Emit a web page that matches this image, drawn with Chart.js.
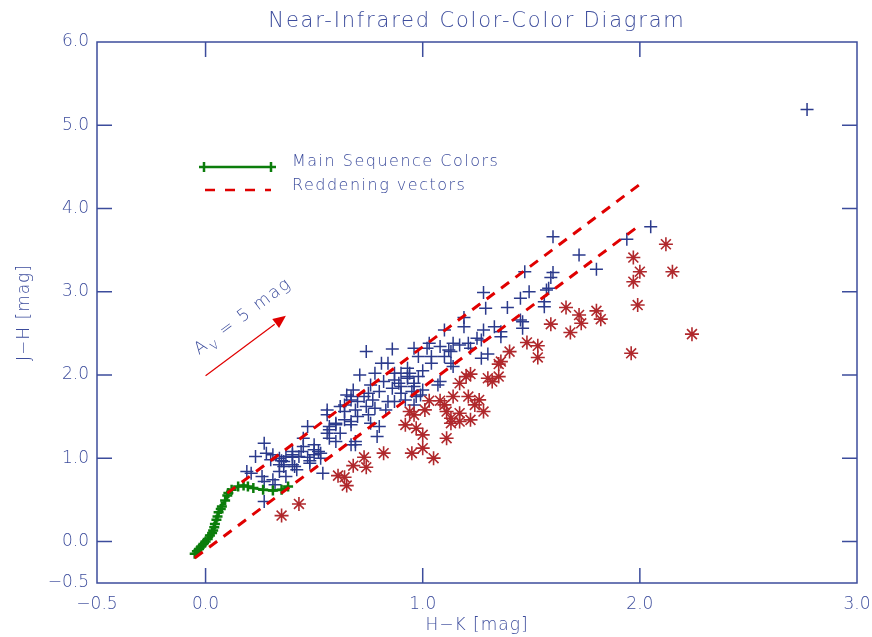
<!DOCTYPE html>
<html>
<head>
<meta charset="utf-8">
<script src="https://cdn.jsdelivr.net/npm/chart.js@4.4.1/dist/chart.umd.min.js"></script>
<style>
  html, body { margin: 0; padding: 0; background: #ffffff; }
  #nir_chart { display: block; }
</style>
</head>
<body>
<canvas id="nir_chart" width="872" height="637"></canvas>
<script>
// field stars without excess (plus signs)
const hk_plus = [
  1.60, 1.60, 1.59, 1.58, 1.56, 1.56, 1.47, 1.49, 1.45, 1.46, 1.45, 1.46, 1.39, 1.28, 1.29,
  1.28, 1.33, 1.36, 1.36, 1.27, 1.25, 1.30, 1.27, 1.19, 1.19, 1.10, 1.21, 1.22, 1.17, 1.14,
  1.13, 1.08, 1.03, 1.02, 0.96, 0.98, 1.04, 1.04, 1.10, 1.13, 1.14, 0.93, 0.94, 0.93, 0.96,
  0.96, 1.07, 1.08, 0.99, 0.90, 0.74, 0.86, 0.81, 0.84, 0.71, 0.78, 0.87, 0.87, 0.93, 0.89,
  0.95, 0.97, 1.00, 0.68, 0.65, 0.67, 0.70, 0.73, 0.75, 0.80, 0.77, 0.84, 0.87, 0.83, 0.74,
  0.69, 0.64, 0.75, 0.56, 0.56, 0.64, 0.67, 0.67, 0.76, 0.80, 0.79, 0.47, 0.57, 0.60, 0.62,
  0.56, 0.57, 0.69, 0.67, 0.50, 0.45, 0.52, 0.50, 0.53, 0.37, 0.36, 0.40, 0.42, 0.54, 0.27,
  0.23, 0.28, 0.31, 0.34, 0.35, 0.36, 0.34, 0.40, 0.41, 0.37, 0.31, 0.27, 0.26, 0.21, 0.19,
  0.32, 0.27, 0.43, 0.48, 0.45, 0.40, 0.47, 0.48, 0.50, 0.53, 0.57, 0.60, 0.64, 0.67, 0.69,
  1.72, 1.80, 1.57, 1.94, 2.05, 2.77, 0.90, 0.92, 0.96,
  0.62, 0.70, 0.78, 0.86, 0.90, 0.82, 0.76, 0.98, 1.00, 1.12, 0.60, 0.34, 0.30, 0.44, 0.40
];
const jh_plus = [
  3.66, 3.23, 3.17, 3.04, 2.88, 2.82, 3.24, 3.00, 2.92, 2.64, 2.66, 2.56, 2.81, 2.99, 2.80,
  2.54, 2.58, 2.52, 2.46, 2.42, 2.44, 2.25, 2.20, 2.69, 2.58, 2.54, 2.38, 2.32, 2.36, 2.38,
  2.28, 2.34, 2.38, 2.32, 2.32, 2.22, 2.22, 2.14, 2.22, 2.14, 2.10, 2.08, 2.02, 1.96, 1.90,
  1.86, 1.88, 1.92, 1.76, 2.02, 2.28, 2.31, 2.14, 2.14, 2.00, 2.02, 2.02, 1.94, 1.98, 1.90,
  1.80, 1.74, 1.82, 1.82, 1.76, 1.70, 1.68, 1.74, 1.78, 1.80, 1.70, 1.68, 1.68, 1.58, 1.62,
  1.58, 1.56, 1.52, 1.58, 1.52, 1.46, 1.44, 1.40, 1.42, 1.38, 1.26, 1.38, 1.38, 1.40, 1.30,
  1.30, 1.24, 1.20, 1.16, 1.16, 1.14, 1.08, 1.04, 1.00, 1.02, 0.96, 0.92, 0.86, 0.82, 1.18,
  1.02, 1.06, 1.04, 1.00, 0.97, 0.90, 0.84, 1.04, 0.90, 0.78, 0.74, 0.72, 0.78, 0.82, 0.84,
  0.68, 0.48, 1.02, 0.94, 1.24, 1.01, 1.01, 0.97, 1.10, 1.06, 1.34, 1.42, 1.64, 1.74, 1.16,
  3.44, 3.27, 3.02, 3.63, 3.78, 5.19, 1.86, 1.70, 1.64,
  1.62, 1.50, 1.60, 1.84, 1.78, 1.92, 1.88, 1.98, 2.05, 2.30, 1.20, 0.92, 0.98, 1.08, 1.08
];

// stars with K-band excess (asterisks)
const hk_star = [
  2.12, 1.97, 2.00, 1.97, 1.99, 1.96, 2.15, 2.24, 1.66, 1.72, 1.73, 1.80, 1.82, 1.68, 1.59,
  1.48, 1.53, 1.53, 1.40, 1.36, 1.35, 1.30, 1.32, 1.35, 1.22, 1.20, 1.17, 1.14, 1.08, 1.10,
  1.11, 1.03, 1.01, 1.21, 1.26, 1.24, 1.28, 1.17, 1.13, 1.17, 1.22, 1.13, 1.11, 1.00, 1.00,
  1.05, 0.96, 0.92, 0.97, 0.95, 0.82, 0.73, 0.68, 0.74, 0.61, 0.64, 0.65, 0.43, 0.35, 0.94
];
const jh_star = [
  3.57, 3.41, 3.24, 3.12, 2.84, 2.26, 3.24, 2.49, 2.81, 2.72, 2.62, 2.77, 2.67, 2.51, 2.61,
  2.39, 2.35, 2.21, 2.28, 2.16, 2.13, 1.96, 1.92, 1.98, 2.01, 1.98, 1.90, 1.74, 1.69, 1.64,
  1.56, 1.69, 1.58, 1.74, 1.70, 1.64, 1.56, 1.54, 1.48, 1.44, 1.46, 1.42, 1.24, 1.28, 1.12,
  1.00, 1.52, 1.40, 1.36, 1.06, 1.06, 1.01, 0.91, 0.89, 0.79, 0.77, 0.67, 0.45, 0.31, 1.56
];

// main sequence locus
const hk_ms = [
  -0.05, -0.04, -0.03, -0.02, -0.01, 0.00, 0.01, 0.02, 0.03, 0.035, 0.04, 0.043, 0.05, 0.055,
  0.06, 0.07, 0.075, 0.09, 0.10, 0.105, 0.12, 0.15, 0.175, 0.195, 0.22, 0.265, 0.31, 0.35, 0.38
];
const jh_ms = [
  -0.15, -0.12, -0.09, -0.06, -0.03, 0.00, 0.03, 0.07, 0.10, 0.13, 0.17, 0.21, 0.26, 0.30,
  0.35, 0.39, 0.42, 0.49, 0.55, 0.58, 0.62, 0.66, 0.67, 0.66, 0.64, 0.62, 0.61, 0.62, 0.66
];

// reddening vectors and the A_V = 5 mag arrow
const hk_vec_lo = [-0.05, 2.0];
const jh_vec_lo = [-0.20, 3.80];
const hk_vec_hi = [0.10, 2.0];
const jh_vec_hi = [0.58, 4.29];
const hk_arrow = [0.0, 0.37];
const jh_arrow = [1.99, 2.71];

const x_ticks = [-0.5, 0.0, 1.0, 2.0, 3.0];
const y_ticks = [-0.5, 0.0, 1.0, 2.0, 3.0, 4.0, 5.0, 6.0];
const x_major = [0.0, 1.0, 2.0];
const y_major = [0.0, 1.0, 2.0, 3.0, 4.0, 5.0];

const ink = '#3c4c9c';
const c_plus = '#2b3a8c';
const c_star = '#b0282c';
const c_ms = '#0b7d0b';
const c_vec = '#e00000';
const face = '"DejaVu Sans", sans-serif';

function pts(xs, ys) {
  return xs.map((x, i) => ({ x: x, y: ys[i] }));
}

function fmt(v) {
  return (v < 0 ? '\u2212' : '') + Math.abs(v).toFixed(1);
}

function text(ctx, str, x, y, size, align) {
  ctx.font = '200 ' + size + 'px ' + face;
  ctx.fillStyle = ink;
  ctx.textAlign = align || 'left';
  ctx.textBaseline = 'middle';
  ctx.fillText(str, x, y);
}

// frame, inward ticks, title, axis titles, legend, arrow
const decorations = {
  id: 'decorations',
  afterDraw(chart) {
    const ctx = chart.ctx;
    const a = chart.chartArea;
    const sx = chart.scales.x;
    const sy = chart.scales.y;
    ctx.save();

    ctx.strokeStyle = ink;
    ctx.lineWidth = 1.5;
    ctx.strokeRect(a.left, a.top, a.right - a.left, a.bottom - a.top);
    ctx.beginPath();
    x_major.forEach(v => {
      const px = sx.getPixelForValue(v);
      ctx.moveTo(px, a.bottom); ctx.lineTo(px, a.bottom - 15);
      ctx.moveTo(px, a.top); ctx.lineTo(px, a.top + 15);
    });
    y_major.forEach(v => {
      const py = sy.getPixelForValue(v);
      ctx.moveTo(a.left, py); ctx.lineTo(a.left + 15, py);
      ctx.moveTo(a.right, py); ctx.lineTo(a.right - 15, py);
    });
    ctx.stroke();

    ctx.letterSpacing = '1.8px';
    text(ctx, 'Near-Infrared Color-Color Diagram', (a.left + a.right) / 2, 22, 21, 'center');
    ctx.letterSpacing = '1px';
    text(ctx, 'H\u2212K [mag]', (a.left + a.right) / 2, 626, 17, 'center');
    ctx.save();
    ctx.translate(25, (a.top + a.bottom) / 2);
    ctx.rotate(-Math.PI / 2);
    text(ctx, 'J\u2212H [mag]', 0, 0, 17, 'center');
    ctx.restore();

    // legend
    ctx.strokeStyle = c_ms;
    ctx.lineWidth = 2.5;
    ctx.beginPath();
    ctx.moveTo(204, 167); ctx.lineTo(271, 167);
    [204, 271].forEach(px => {
      ctx.moveTo(px - 5, 167); ctx.lineTo(px + 5, 167);
      ctx.moveTo(px, 162); ctx.lineTo(px, 172);
    });
    ctx.stroke();
    ctx.strokeStyle = c_vec;
    ctx.lineWidth = 2.5;
    ctx.setLineDash([10, 10]);
    ctx.beginPath();
    ctx.moveTo(205, 190); ctx.lineTo(271, 190);
    ctx.stroke();
    ctx.setLineDash([]);
    ctx.letterSpacing = '1.5px';
    text(ctx, 'Main Sequence Colors', 292, 162, 16);
    text(ctx, 'Reddening vectors', 292, 186, 16);

    // A_V arrow
    const x0 = sx.getPixelForValue(hk_arrow[0]);
    const y0 = sy.getPixelForValue(jh_arrow[0]);
    const x1 = sx.getPixelForValue(hk_arrow[1]);
    const y1 = sy.getPixelForValue(jh_arrow[1]);
    const ang = Math.atan2(y1 - y0, x1 - x0);
    const head = 14;
    ctx.strokeStyle = c_vec;
    ctx.fillStyle = c_vec;
    ctx.lineWidth = 1.2;
    ctx.beginPath();
    ctx.moveTo(x0, y0);
    ctx.lineTo(x1 - head * Math.cos(ang), y1 - head * Math.sin(ang));
    ctx.stroke();
    ctx.beginPath();
    ctx.moveTo(x1, y1);
    ctx.lineTo(x1 - head * Math.cos(ang - 0.42), y1 - head * Math.sin(ang - 0.42));
    ctx.lineTo(x1 - head * Math.cos(ang + 0.42), y1 - head * Math.sin(ang + 0.42));
    ctx.closePath();
    ctx.fill();

    ctx.save();
    ctx.translate(x0, y0);
    ctx.rotate(ang);
    ctx.translate(7, -18);
    ctx.letterSpacing = '1.8px';
    text(ctx, 'A', 0, -7, 17);
    let w = ctx.measureText('A').width;
    text(ctx, 'V', w + 1, 0, 11);
    w += ctx.measureText('V').width + 1;
    text(ctx, ' = 5 mag', w, -7, 17);
    ctx.restore();

    ctx.restore();
  }
};

const config = {
  type: 'scatter',
  data: {
    datasets: [
      {
        data: pts(hk_vec_hi, jh_vec_hi),
        showLine: true,
        borderColor: c_vec,
        borderWidth: 3,
        borderDash: [10, 8],
        pointRadius: 0
      },
      {
        data: pts(hk_vec_lo, jh_vec_lo),
        showLine: true,
        borderColor: c_vec,
        borderWidth: 3,
        borderDash: [10, 8],
        pointRadius: 0
      },
      {
        data: pts(hk_ms, jh_ms),
        showLine: true,
        borderColor: c_ms,
        borderWidth: 2.5,
        pointStyle: 'cross',
        pointRadius: 5,
        pointBorderWidth: 2.5,
        pointBorderColor: c_ms
      },
      {
        data: pts(hk_star, jh_star),
        pointStyle: 'star',
        pointRadius: 7,
        pointBorderWidth: 1.6,
        pointBorderColor: c_star,
        pointBackgroundColor: c_star
      },
      {
        data: pts(hk_plus, jh_plus),
        pointStyle: 'cross',
        pointRadius: 6.5,
        pointBorderWidth: 1.5,
        pointBorderColor: c_plus
      }
    ]
  },
  options: {
    responsive: false,
    animation: false,
    events: [],
    layout: {
      padding: { top: 42, right: 15, left: 0, bottom: 0 }
    },
    scales: {
      x: {
        type: 'linear',
        min: -0.5,
        max: 3.0,
        afterBuildTicks: scale => { scale.ticks = x_ticks.map(v => ({ value: v })); },
        afterFit: scale => {
          scale.height = 54;
          scale.paddingLeft = 0;
          scale.paddingRight = 0;
        },
        grid: { display: false, drawTicks: false },
        border: { display: false },
        ticks: {
          padding: 11,
          autoSkip: false,
          maxRotation: 0,
          color: ink,
          font: { family: face, size: 17, weight: '200' },
          callback: v => fmt(v)
        }
      },
      y: {
        type: 'linear',
        min: -0.5,
        max: 6.0,
        afterBuildTicks: scale => { scale.ticks = y_ticks.map(v => ({ value: v })); },
        afterFit: scale => {
          scale.width = 97;
          scale.paddingTop = 0;
          scale.paddingBottom = 0;
        },
        grid: { display: false, drawTicks: false },
        border: { display: false },
        ticks: {
          padding: 8,
          autoSkip: false,
          color: ink,
          font: { family: face, size: 17, weight: '200' },
          callback: v => fmt(v)
        }
      }
    },
    plugins: {
      legend: { display: false },
      title: { display: false },
      tooltip: { enabled: false }
    }
  },
  plugins: [decorations]
};

new Chart(document.getElementById('nir_chart'), config);
</script>
</body>
</html>
